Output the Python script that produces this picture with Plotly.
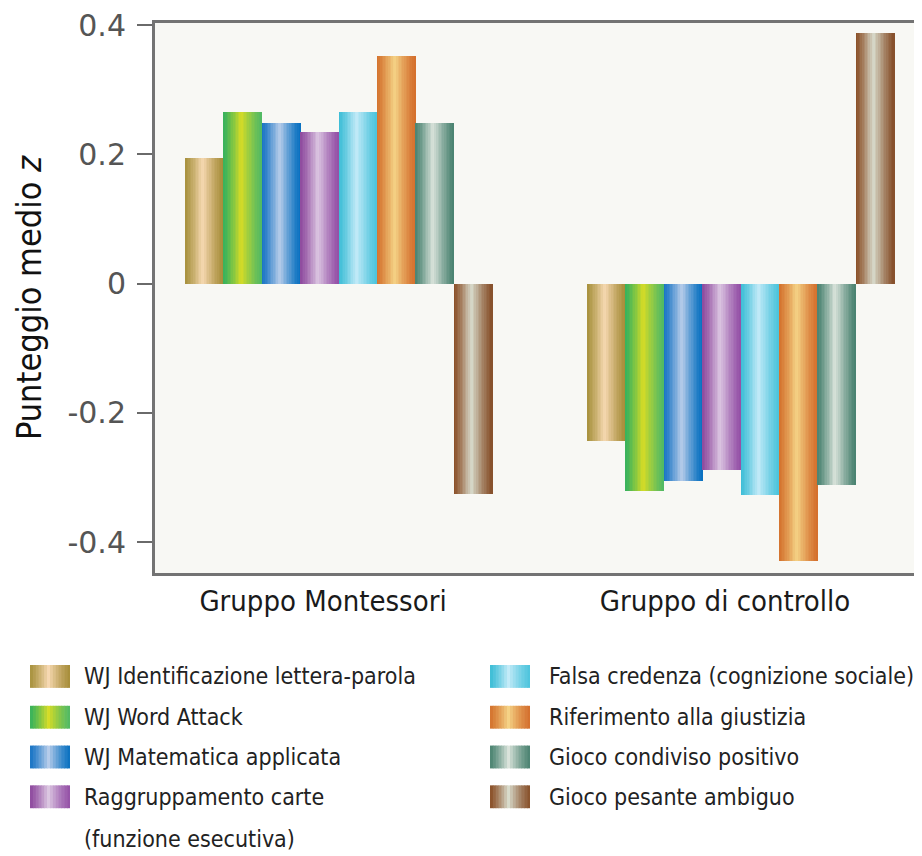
import plotly.graph_objects as go

# ---------------- data ----------------
groups = ["Gruppo Montessori", "Gruppo di controllo"]
series = [
    "WJ Identificazione lettera-parola",
    "WJ Word Attack",
    "WJ Matematica applicata",
    "Raggruppamento carte\n(funzione esecutiva)",
    "Falsa credenza (cognizione sociale)",
    "Riferimento alla giustizia",
    "Gioco condiviso positivo",
    "Gioco pesante ambiguo",
]
montessori = [0.194, 0.266, 0.249, 0.235, 0.265, 0.352, 0.249, -0.325]
controllo = [-0.244, -0.321, -0.306, -0.289, -0.327, -0.429, -0.312, 0.388]
ytick_vals = [0.4, 0.2, 0, -0.2, -0.4]
ytick_text = ["0.4", "0.2", "0", "-0.2", "-0.4"]
y_title = "Punteggio medio <i>z</i>"

# shading of each series: (left edge, highlight, right edge)
shades = [
    ("#a8923e", "#f7d9b2", "#a68c38"),
    ("#38b25c", "#d6dc26", "#50b964"),
    ("#1874c4", "#b8cdea", "#0870c0"),
    ("#8e4a9e", "#dcc7e2", "#9450a6"),
    ("#3cbdd6", "#c4ebf8", "#4cc4dc"),
    ("#d4732e", "#f5d386", "#d46f2c"),
    ("#4b8371", "#dbe4dc", "#4a8270"),
    ("#8a4f27", "#d9dccd", "#87502a"),
]

# ---------------- styling / layout constants ----------------
OFF = 8                      # default page margin of the html body
SCREEN_W, SCREEN_H = 922, 856
PLOT_L, PLOT_T, PLOT_R, PLOT_B = 155, 20, 922, 573   # plot area on screen
W, H = SCREEN_W - OFF, SCREEN_H - OFF
ML, MT = PLOT_L - OFF, PLOT_T - OFF
MR, MB = W - (PLOT_R - OFF), H - (PLOT_B - OFF)
PW, PH = PLOT_R - PLOT_L, PLOT_B - PLOT_T
GROUP_W = 0.764
K = 24          # strips per bar to imitate the cylindrical shading
PEAK = 0.46
GAMMA = 1.25
COND = "DejaVu Sans Condensed, Liberation Sans Narrow, sans-serif"


def hex2rgb(h):
    h = h.lstrip("#")
    return tuple(int(h[i:i + 2], 16) for i in (0, 2, 4))


def mix(a, b, f):
    return tuple(a[i] + (b[i] - a[i]) * f for i in range(3))


def shade_at(stops, t):
    lft, mid, rgt = (hex2rgb(s) for s in stops)
    if t <= PEAK:
        c = mix(lft, mid, (t / PEAK) ** GAMMA)
    else:
        c = mix(rgt, mid, ((1 - t) / (1 - PEAK)) ** GAMMA)
    return "rgb(%d,%d,%d)" % tuple(round(v) for v in c)


fig = go.Figure()
n = len(series)
bw = GROUP_W / n
values = [montessori, controllo]
for si, name in enumerate(series):
    xs, ys, offs, wids, cols = [], [], [], [], []
    for k in range(K):
        col = shade_at(shades[si], (k + 0.5) / K)
        for gi, vals in enumerate(values):
            xs.append(gi)
            ys.append(vals[si])
            offs.append(-GROUP_W / 2 + si * bw + k * bw / K)
            wids.append(bw / K)
            cols.append(col)
    fig.add_trace(go.Bar(
        x=xs, y=ys, offset=offs, width=wids,
        marker=dict(color=cols, line=dict(width=0)),
        name=name.replace("\n", " "), showlegend=False,
        hovertemplate="%{y:.3f}<extra>" + name.replace("\n", " ") + "</extra>",
    ))


# ---------------- custom legend (large shaded swatches) ----------------
def px_x(px):
    return (px - PLOT_L) / PW


def px_y(py):
    return (PLOT_B - py) / PH


shapes, annots = [], []
col_x = [(30, 82), (490, 547)]
row_y = [677, 718, 758, 798]
sw_w, sw_h, line_gap = 40, 23, 42
SK = 14
for si, name in enumerate(series):
    c, r = divmod(si, 4)
    sx, tx = col_x[c]
    cy = row_y[r]
    for k in range(SK):
        x0 = sx + k * sw_w / SK
        x1 = min(sx + (k + 1) * sw_w / SK + 0.6, sx + sw_w)
        shapes.append(dict(
            type="rect", xref="paper", yref="paper",
            x0=px_x(x0), x1=px_x(x1), y0=px_y(cy - sw_h / 2), y1=px_y(cy + sw_h / 2),
            fillcolor=shade_at(shades[si], (k + 0.5) / SK), line=dict(width=0), layer="above",
        ))
    for li, line in enumerate(name.split("\n")):
        annots.append(dict(
            text=line, xref="paper", yref="paper", x=px_x(tx), y=px_y(cy + li * line_gap),
            xanchor="left", yanchor="middle", showarrow=False,
            font=dict(family=COND, size=23, color="#222222"),
        ))

fig.update_layout(
    width=W, height=H, autosize=False,
    margin=dict(l=ML, r=MR, t=MT, b=MB),
    paper_bgcolor="#ffffff", plot_bgcolor="#f8f8f4",
    barmode="overlay", bargap=0, bargroupgap=0,
    showlegend=False,
    shapes=shapes, annotations=annots,
    xaxis=dict(
        range=[-0.4577, 1.4502], tickvals=[0, 1], ticktext=groups,
        showline=True, linecolor="#737373", linewidth=3, mirror=True,
        showgrid=False, zeroline=False, ticks="",
        tickfont=dict(family=COND, size=29, color="#1a1a1a"),
        ticklabelshift=-16, ticklabelstandoff=0,
    ),
    yaxis=dict(
        range=[-0.4477, 0.4031], tickvals=ytick_vals, ticktext=ytick_text,
        showline=True, linecolor="#737373", linewidth=3, mirror=False,
        showgrid=False, zeroline=False,
        ticks="outside", ticklen=15, tickwidth=2, tickcolor="#6a6a6a",
        tickfont=dict(family="DejaVu Sans", size=30, color="#555555"),
        ticklabelstandoff=5, ticklabeloverflow="allow",
        title=dict(text=y_title, font=dict(family=COND, size=34, color="#111111"), standoff=16),
    ),
)

fig.write_html("out.html")
